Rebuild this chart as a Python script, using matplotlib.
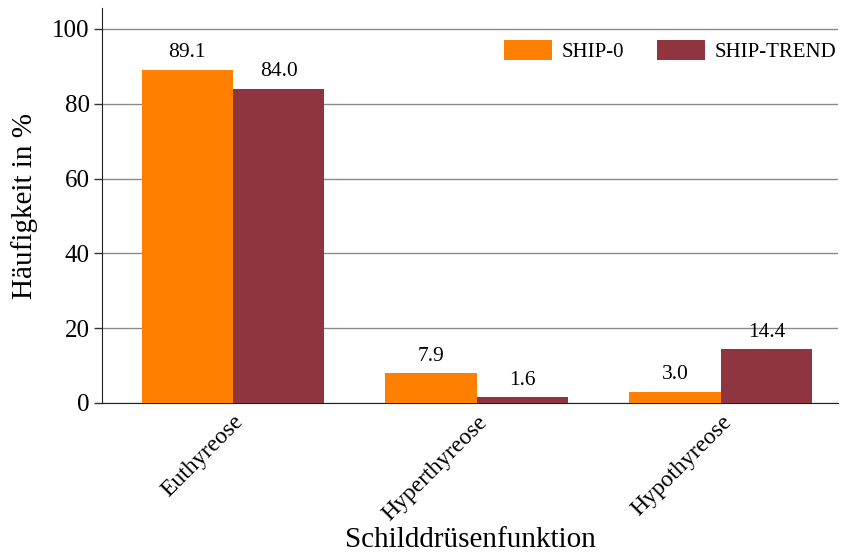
import matplotlib
matplotlib.use("Agg")
import matplotlib.pyplot as plt
import numpy as np

categories = ["Euthyreose", "Hyperthyreose", "Hypothyreose"]
ship0 = [89.1, 7.9, 3.0]
trend = [84.0, 1.6, 14.4]
series_names = ["SHIP-0", "SHIP-TREND"]

plt.rcParams['font.family'] = ['Liberation Serif', 'DejaVu Serif']

fig = plt.figure(figsize=(8.41, 5.57), dpi=100)
ax = fig.add_axes([0.1213, 0.2765, 0.8751, 0.7091])

x = np.arange(len(categories))
w = 0.375
c0 = "#FF8000"
c1 = "#8E3540"
b0 = ax.bar(x - w/2, ship0, w, color=c0, label=series_names[0], zorder=3)
b1 = ax.bar(x + w/2, trend, w, color=c1, label=series_names[1], zorder=3)

for rects, vals in ((b0, ship0), (b1, trend)):
    for r, v in zip(rects, vals):
        ax.text(r.get_x() + r.get_width()/2, v + 2.0, f"{v:.1f}",
                ha="center", va="bottom", fontsize=15.5)

ax.set_xlim(-0.537, 2.48)
ax.set_ylim(0, 105.6)
ax.set_yticks([0, 20, 40, 60, 80, 100])
ax.yaxis.grid(True, color="#8a8a8a", linewidth=1.0, zorder=0)
ax.set_axisbelow(True)
ax.tick_params(axis="y", labelsize=18, length=6, width=1, color="#333333", pad=3)
ax.tick_params(axis="x", length=0, labelsize=17, pad=6)
ax.set_xticks(x)
ax.set_xticklabels(categories, rotation=45, ha="right", rotation_mode="anchor")
for s in ("top", "right"):
    ax.spines[s].set_visible(False)
ax.spines["left"].set_color("#222222")
ax.spines["bottom"].set_color("#222222")

ax.set_ylabel("Häufigkeit in %", fontsize=21, labelpad=10)
ax.set_xlabel("Schilddrüsenfunktion", fontsize=21, labelpad=2)

ax.legend(loc="upper right", ncol=2, frameon=False, fontsize=15,
          handlelength=2.3, handleheight=1.1, handletextpad=0.45,
          columnspacing=1.6, borderaxespad=0.0, borderpad=0.2,
          bbox_to_anchor=(1.003, 0.93))

fig.savefig("out.png", dpi=100)
